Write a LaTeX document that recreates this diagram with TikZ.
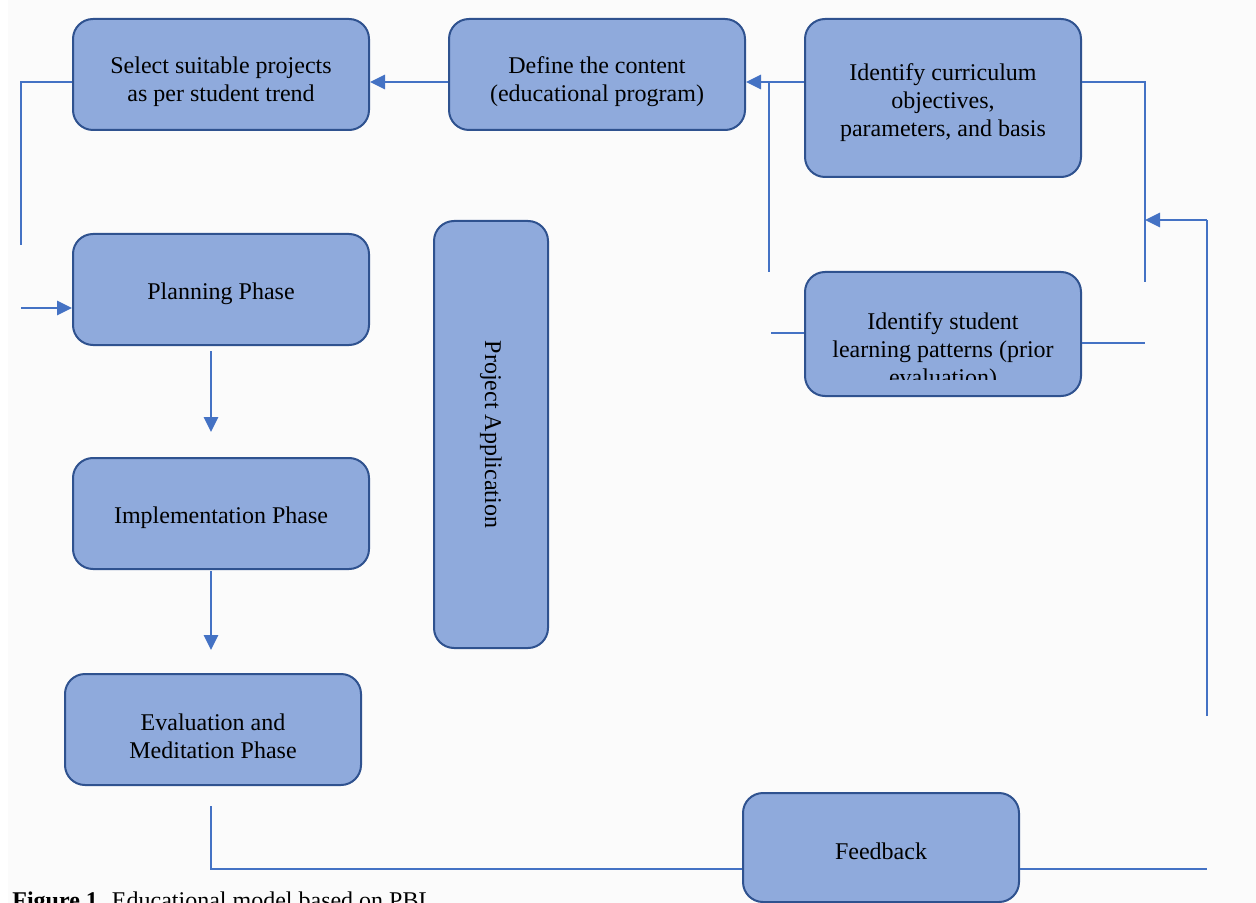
\documentclass[tikz,border=0pt]{standalone}
\usepackage{fontspec}
\setmainfont{Liberation Serif}
\usetikzlibrary{positioning,calc,arrows.meta}

\definecolor{boxfill}{HTML}{8FAADC}
\definecolor{boxdraw}{HTML}{2F528F}
\definecolor{linkblue}{HTML}{4472C4}

% strut that pushes the first line of a box down
\newcommand{\lowstrut}[1]{\rule{0pt}{#1}}

\begin{document}
\begin{tikzpicture}[
    x=0.5pt, y=-0.5pt, % one unit = one pixel of the figure
    block/.style={rectangle, rounded corners=10pt, draw=boxdraw, fill=boxfill,
        line width=1pt, align=center, inner sep=0pt, font=\fontsize{12}{14}\selectfont}, % boxes
    boxtext/.style={align=center, inner sep=0pt, font=\fontsize{12}{14}\selectfont}, % free text
    link/.style={draw=linkblue, line width=0.65pt}, % thin lines
    arrow/.style={-{Triangle[length=7.5pt,width=7pt]}, draw=linkblue, line width=1.4pt} % arrows
    ]

    \useasboundingbox (0,0) rectangle (1256,903);
    \clip (0,0) rectangle (1256,903);
    \fill[white!98.5!black] (8,0) rectangle (1256,903);

    % Top row
    \node[block, minimum width=148pt, minimum height=55.5pt] (select) at (221,74.5)
        {\lowstrut{15.5pt}Select suitable projects\\as per student trend};
    \node[block, minimum width=148pt, minimum height=55.5pt] (define) at (597,74.5)
        {\lowstrut{15.5pt}Define the content\\(educational program)};
    \node[block, minimum width=138pt, minimum height=79pt] (curric) at (943,98)
        {\lowstrut{13.5pt}Identify curriculum\\objectives,\\parameters, and basis};

    % Phases
    \node[block, minimum width=148pt, minimum height=55.5pt] (planning) at (221,289.5)
        {\lowstrut{12.5pt}Planning Phase};
    \node[block, minimum width=148pt, minimum height=55.5pt] (implement) at (221,513.5)
        {\lowstrut{13pt}Implementation Phase};
    \node[block, minimum width=148pt, minimum height=55.5pt] (evaluation) at (213,729.5)
        {\lowstrut{15pt}Evaluation and\\Meditation Phase};

    % Project application
    \node[block, rotate=-90, minimum width=213.5pt, minimum height=57pt] (projapp) at (491,434.5)
        {Project Application};

    % Student patterns (text cut at the bottom)
    \node[block, minimum width=138pt, minimum height=62pt] (student) at (943,334) {};
    \begin{scope}
        \clip (805,272) rectangle (1081,379);
        \node[boxtext] (studtext) at (943,352)
            {Identify student\\learning patterns (prior\\evaluation)};
    \end{scope}

    % Feedback
    \node[block, minimum width=138pt, minimum height=54.5pt] (feedback) at (881,847.5)
        {\lowstrut{12pt}Feedback};

    % Free ends
    \coordinate (toprow) at (0,82);
    \coordinate (botrow) at (0,869);
    \coordinate (splitA) at (769,82);
    \coordinate (endA) at (769,272);
    \coordinate (stubB) at (771,333);
    \coordinate (endC) at (1145,282);
    \coordinate (stubD) at (1145,343);
    \coordinate (fbTop) at (1207,220);
    \coordinate (fbJoin) at (1145,220);
    \coordinate (fbLow) at (1207,716);
    \coordinate (fbEnd) at (1207,869);
    \coordinate (evalOut) at (211,806);
    \coordinate (leftEnd) at (21,245);
    \coordinate (leftIn) at (21,308);
    \coordinate (planOut) at (211,351);
    \coordinate (implIn) at (211,432);
    \coordinate (implOut) at (211,571);
    \coordinate (evalIn) at (211,650);

    % Top row arrows
    \draw[arrow] (define.west |- toprow) -- (select.east |- toprow);
    \draw[arrow] (curric.west |- toprow) -- (define.east |- toprow);

    % Lines round the right boxes
    \draw[link] (splitA) -- (endA);
    \draw[link] (stubB) -- (student.west |- stubB);
    \draw[link] (curric.east |- toprow) -| (endC);
    \draw[link] (student.east |- stubD) -- (stubD);
    \draw[link] (fbLow) -- (fbTop);
    \draw[arrow] (fbTop) -- (fbJoin);

    % Feedback loop at the bottom
    \draw[link] (evalOut) |- (feedback.west |- botrow);
    \draw[link] (feedback.east |- botrow) -- (fbEnd);

    % Left side
    \draw[link] (select.west |- toprow) -| (leftEnd);
    \draw[arrow] (leftIn) -- (planning.west |- leftIn);

    % Phase arrows
    \draw[arrow] (planOut) -- (implIn);
    \draw[arrow] (implOut) -- (evalIn);

    % Caption (cut at the bottom)
    \node[boxtext, anchor=base west] (caption) at (12,908)
        {\textbf{Figure 1.} Educational model based on PBL};

\end{tikzpicture}
\end{document}
